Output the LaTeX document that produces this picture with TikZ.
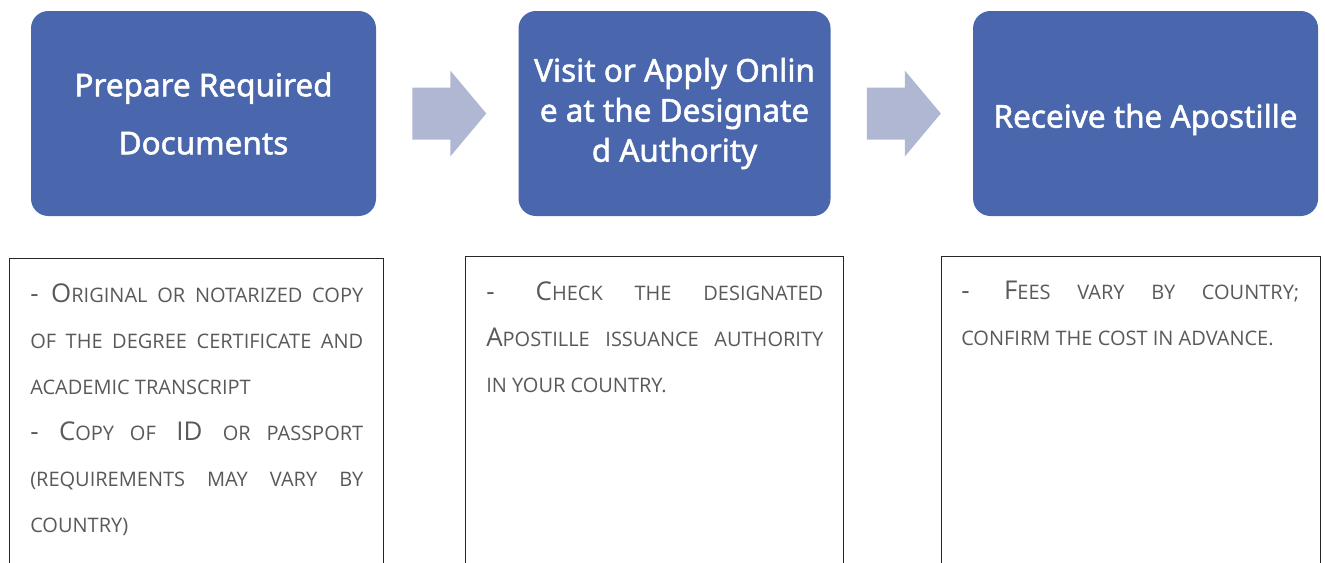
\documentclass[tikz,border=0pt]{standalone}
\usepackage{fontspec}
\newfontfamily\titlefont[FakeBold=1.6]{Noto Sans}
\newfontfamily\notefont{Open Sans}
\usepackage{xcolor}
\definecolor{stepblue}{RGB}{74, 103, 173}
\definecolor{arrowgray}{RGB}{176, 183, 211}
\definecolor{notegray}{RGB}{89, 89, 89}
\usetikzlibrary{positioning, calc}

\hyphenpenalty=10000
\exhyphenpenalty=10000
\newcommand{\smc}[1]{{\fontsize{15pt}{34.5pt}\selectfont #1}}

\begin{document}
\begin{tikzpicture}[
        x=0.75pt, y=-0.75pt,
        stepbox/.style={
            rectangle,
            fill=stepblue,
            text=white,
            rounded corners=13pt,
            minimum height=153.75pt,
            align=center,
            inner sep=0pt,
            font=\titlefont\fontsize{23.6pt}{43.5pt}\selectfont
        },
        notebox/.style={
            rectangle,
            draw=black!85,
            line width=1pt,
            minimum height=250pt,
            inner sep=0pt
        },
        notetext/.style={
            anchor=north west,
            inner sep=0pt,
            text width=#1,
            align=justify,
            text=notegray,
            font=\notefont\fontsize{19.4pt}{34.5pt}\selectfont
        },
        flowarrow/.style={fill=arrowgray}
    ]
        \clip (0,0) rectangle (1325,562);

        \node[stepbox, minimum width=258.75pt] (prep) at (203.5,113.5) {Prepare Required\\Documents};
        \node[stepbox, minimum width=234pt, right=106.5pt of prep,
              font=\titlefont\fontsize{23.6pt}{30pt}\selectfont] (visit) {Visit or Apply Onlin\\e at the Designate\\d Authority};
        \node[stepbox, minimum width=258.75pt, right=106.5pt of visit] (recv)
            {\raisebox{-4.5pt}[\height][\depth]{Receive the Apostille}};

        \path ($(prep.east)!0.5!(visit.west)$) coordinate (a1);
        \path ($(visit.east)!0.5!(recv.west)$) coordinate (a2);
        \foreach \c in {a1, a2}
            \fill[flowarrow] (\c) ++(-35,-26) -- ++(38,0) -- ++(0,-17) -- ++(36,43)
                -- ++(-36,43) -- ++(0,-17) -- ++(-38,0) -- cycle;

        \node[notebox, anchor=north west, minimum width=280.5pt] (noteA) at (9,258) {};
        \node[notebox, anchor=north west, minimum width=283.5pt] (noteB) at (465,256) {};
        \node[notebox, anchor=north west, minimum width=284.25pt] (noteC) at (941,256) {};

        \node[notetext=249.75pt] (docs) at ($(noteA.north west)+(21,25)$) {%
            - O\smc{RIGINAL OR NOTARIZED COPY}\linebreak
            \smc{OF THE DEGREE CERTIFICATE AND}\linebreak
            \smc{ACADEMIC TRANSCRIPT}\\
            - C\smc{OPY OF} ID \smc{OR PASSPORT}\linebreak
            \smc{(REQUIREMENTS MAY VARY BY}\linebreak
            \smc{COUNTRY)}};
        \node[notetext=252.75pt] (check) at ($(noteB.north west)+(21,25)$) {%
            - C\smc{HECK THE DESIGNATED}\linebreak
            A\smc{POSTILLE ISSUANCE AUTHORITY}\linebreak
            \smc{IN YOUR COUNTRY.}};
        \node[notetext=253.5pt] (fees) at ($(noteC.north west)+(20,25)$) {%
            - F\smc{EES VARY BY COUNTRY;}\linebreak
            \smc{CONFIRM THE COST IN ADVANCE.}};

    \end{tikzpicture}
\end{document}
